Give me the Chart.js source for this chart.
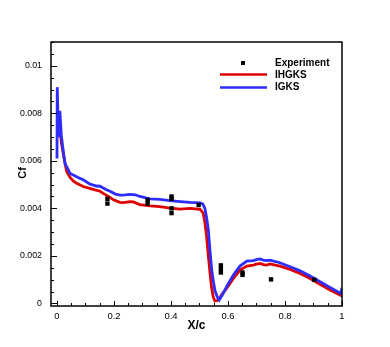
<!DOCTYPE html>
<html>
<head>
<meta charset="utf-8">
<script src="https://cdn.jsdelivr.net/npm/chart.js@4"></script>
<style>
    html, body { margin: 0; padding: 0; background: #fff; }
    #wrap { width: 390px; height: 347px; }
</style>
</head>
<body>
<div id="wrap"><canvas id="cfChart" width="390" height="347"></canvas></div>
<script>
// ----------------------------------------------------------
// DATA
// ----------------------------------------------------------
const igksX = [0.000, 0.001, 0.005, 0.010, 0.015, 0.020, 0.028, 0.034, 0.046, 0.057, 0.069, 0.081,
    0.092, 0.116, 0.139, 0.151, 0.170, 0.186, 0.205, 0.221, 0.240, 0.256, 0.275, 0.291, 0.326, 0.361,
    0.396, 0.432, 0.467, 0.502, 0.512, 0.519, 0.525, 0.531, 0.537, 0.543, 0.549, 0.554, 0.562, 0.569,
    0.580, 0.595, 0.619, 0.642, 0.666, 0.689, 0.700, 0.712, 0.724, 0.736, 0.747, 0.782, 0.818, 0.853,
    0.888, 0.923, 0.958, 0.996, 1.000];
const igksY = [0.0061, 0.0091, 0.0070, 0.0081, 0.0071, 0.0066, 0.0059, 0.00575, 0.00547, 0.0054, 0.00533, 0.00526,
    0.0052, 0.00502, 0.00494, 0.00493, 0.0048, 0.00472, 0.0046, 0.00456, 0.00457, 0.00459, 0.00457, 0.0045, 0.0044, 0.00438,
    0.00432, 0.00428, 0.00425, 0.00423, 0.00418, 0.0040, 0.0036, 0.0031, 0.0022, 0.0014, 0.0009, 0.00056, 0.00028, 0.00014,
    0.00035, 0.0007, 0.00119, 0.00157, 0.00178, 0.0018, 0.00184, 0.00187, 0.00182, 0.0018, 0.00182, 0.00171, 0.00154, 0.00137,
    0.00115, 0.00091, 0.00067, 0.00042, 0.00066];

const ihgksX = [0.003, 0.006, 0.010, 0.015, 0.022, 0.028, 0.034, 0.046, 0.057, 0.069, 0.092, 0.127,
    0.151, 0.162, 0.186, 0.198, 0.221, 0.233, 0.256, 0.268, 0.291, 0.326, 0.361, 0.396, 0.432, 0.467,
    0.502, 0.513, 0.519, 0.525, 0.531, 0.537, 0.542, 0.548, 0.554, 0.562, 0.569, 0.580, 0.595, 0.619,
    0.642, 0.666, 0.689, 0.700, 0.712, 0.724, 0.736, 0.747, 0.782, 0.818, 0.853, 0.888, 0.923, 0.958, 1.000];
const ihgksY = [0.0072, 0.0078, 0.0074, 0.0068, 0.0063, 0.0059, 0.00555, 0.0053, 0.00515, 0.00505, 0.00492, 0.0048,
    0.00472, 0.00463, 0.00446, 0.00436, 0.00425, 0.00424, 0.00428, 0.00427, 0.00416, 0.0041, 0.00407, 0.00401, 0.00397, 0.004,
    0.00396, 0.0038, 0.0034, 0.0028, 0.0020, 0.00126, 0.0007, 0.00028, 0.0001, 0.00012, 0.0002, 0.0004, 0.00063, 0.00105,
    0.0014, 0.00157, 0.00161, 0.00165, 0.00168, 0.00163, 0.00161, 0.00166, 0.00157, 0.00143, 0.00126, 0.00105, 0.0008, 0.00056, 0.00031];

const expX = [0.177, 0.177, 0.318, 0.318, 0.402, 0.402, 0.402, 0.402, 0.497, 0.575, 0.575, 0.575, 0.651, 0.651, 0.751, 0.903];
const expY = [0.0044, 0.0042, 0.00435, 0.0042, 0.0045, 0.0044, 0.0040, 0.0038, 0.00414, 0.0016, 0.00145, 0.0013, 0.0013, 0.0012, 0.00101, 0.00099];

const xTickValues = [0, 0.2, 0.4, 0.6, 0.8, 1];
const xTickLabels = ["0", "0.2", "0.4", "0.6", "0.8", "1"];
const yTickValues = [0, 0.002, 0.004, 0.006, 0.008, 0.01];
const yTickLabels = ["0", "0.002", "0.004", "0.006", "0.008", "0.01"];

const RED = "rgb(222,0,0)";
const BLUE = "rgb(45,45,255)";
const FONT = "Liberation Sans, Arial, Helvetica, sans-serif";

function pairs(xs, ys) {
    return xs.map((x, i) => ({ x: x, y: ys[i] }));
}

// ----------------------------------------------------------
// FRAME, INWARD TICKS, TITLES AND LEGEND
// ----------------------------------------------------------
const decorPlugin = {
    id: "decor",
    afterDatasetsDraw(chart) {
        const ctx = chart.ctx;
        const a = chart.chartArea;
        const xs = chart.scales.x;
        const ys = chart.scales.y;
        ctx.save();
        ctx.strokeStyle = "#000";

        // ticks (major and minor), pointing into the plot
        ctx.lineWidth = 1;
        ctx.beginPath();
        for (let i = 0; i <= 20; i++) {
            const v = i * 0.05;
            const px = Math.round(xs.getPixelForValue(v)) + 0.5;
            const len = (i % 4 === 0) ? 5 : 3;
            ctx.moveTo(px, a.bottom);
            ctx.lineTo(px, a.bottom - len);
        }
        for (let i = 0; i <= 22; i++) {
            const v = i * 0.0005;
            const py = Math.round(ys.getPixelForValue(v)) + 0.5;
            const len = (i % 4 === 0) ? 6 : 3;
            ctx.moveTo(a.left, py);
            ctx.lineTo(a.left + len, py);
        }
        ctx.stroke();

        // frame
        ctx.lineWidth = 1.5;
        ctx.strokeRect(a.left, a.top, a.right - a.left, a.bottom - a.top);

        // axis titles
        ctx.fillStyle = "#000";
        ctx.textAlign = "center";
        ctx.textBaseline = "middle";
        ctx.font = "bold 12px " + FONT;
        ctx.fillText("X/c", (a.left + a.right) / 2, 326);
        ctx.save();
        ctx.translate(23, 173);
        ctx.rotate(-Math.PI / 2);
        ctx.font = "bold 11px " + FONT;
        ctx.fillText("Cf", 0, 0);
        ctx.restore();

        // legend
        const lx = a.right;
        ctx.fillRect(lx - 101, 61, 4, 4);
        ctx.lineWidth = 2.6;
        ctx.strokeStyle = RED;
        ctx.beginPath();
        ctx.moveTo(lx - 122, 74.5);
        ctx.lineTo(lx - 75, 74.5);
        ctx.stroke();
        ctx.strokeStyle = BLUE;
        ctx.beginPath();
        ctx.moveTo(lx - 122, 87.5);
        ctx.lineTo(lx - 75, 87.5);
        ctx.stroke();
        ctx.textAlign = "left";
        ctx.font = "bold 10px " + FONT;
        ctx.fillText("Experiment", lx - 67, 63);
        ctx.fillText("IHGKS", lx - 67, 75);
        ctx.fillText("IGKS", lx - 67, 87.5);
        ctx.restore();
    }
};

// ----------------------------------------------------------
// CHART
// ----------------------------------------------------------
const cfCtx = document.getElementById("cfChart").getContext("2d");
const cfChart = new Chart(cfCtx, {
    type: "scatter",
    data: {
        datasets: [
            {
                label: "Experiment",
                data: pairs(expX, expY),
                pointStyle: "rect",
                pointRadius: 3.1,
                backgroundColor: "#000",
                borderColor: "#000",
                borderWidth: 0,
                order: 0
            },
            {
                label: "IGKS",
                data: pairs(igksX, igksY),
                showLine: true,
                borderColor: BLUE,
                borderWidth: 2.8,
                pointRadius: 0,
                tension: 0,
                order: 1
            },
            {
                label: "IHGKS",
                data: pairs(ihgksX, ihgksY),
                showLine: true,
                borderColor: RED,
                borderWidth: 2.8,
                pointRadius: 0,
                tension: 0,
                order: 2
            }
        ]
    },
    options: {
        responsive: false,
        animation: false,
        layout: { padding: { top: 42, right: 48, left: 0, bottom: 0 } },
        plugins: {
            legend: { display: false },
            tooltip: { enabled: false }
        },
        scales: {
            x: {
                type: "linear",
                min: -0.021,
                max: 1,
                grid: { display: false, drawTicks: false },
                border: { display: false },
                afterFit(scale) { scale.height = 41; },
                afterBuildTicks(scale) { scale.ticks = xTickValues.map(v => ({ value: v })); },
                ticks: {
                    padding: 5,
                    color: "#000",
                    font: { family: FONT, size: 9.5 },
                    maxRotation: 0,
                    callback: (v, i) => xTickLabels[i]
                }
            },
            y: {
                type: "linear",
                min: -0.00011,
                max: 0.011,
                grid: { display: false, drawTicks: false },
                border: { display: false },
                afterFit(scale) { scale.width = 51; },
                afterBuildTicks(scale) { scale.ticks = yTickValues.map(v => ({ value: v })); },
                ticks: {
                    padding: 9,
                    color: "#000",
                    font: { family: FONT, size: 8.8 },
                    callback: (v, i) => yTickLabels[i]
                }
            }
        }
    },
    plugins: [decorPlugin]
});
</script>
</body>
</html>
